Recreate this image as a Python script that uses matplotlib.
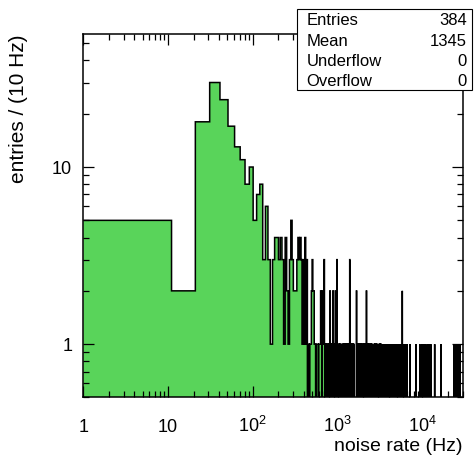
import numpy as np
import matplotlib
matplotlib.use('Agg')
import matplotlib.pyplot as plt
from matplotlib.patches import Rectangle
from matplotlib.ticker import LogLocator, NullFormatter

plt.rcParams['font.family'] = ['Liberation Sans', 'DejaVu Sans']
plt.rcParams['mathtext.fontset'] = 'custom'
plt.rcParams['mathtext.rm'] = 'Liberation Sans'

# histogram: 10 Hz bins starting at 1 Hz
bin_width = 10
n_bins = 3000
x_lo = 1

# bins 0..40 (1 - 411 Hz)
low_counts = [5, 2, 18, 30, 24, 17, 13, 11, 8, 10,
              5, 7, 8, 3, 6, 3, 1, 3, 4, 4,
              3, 4, 3, 1, 4, 2, 1, 3, 5, 3,
              2, 2, 2, 3, 4, 3, 4, 3, 1, 3,
              1]

# bins 41..99 (411 - 1001 Hz)
mid_counts = [4, 1, 3, 0, 1, 0, 1, 1, 2, 3,
              2, 2, 1, 1, 0, 1, 1, 1, 0, 1,
              1, 1, 2, 1, 0, 2, 1, 1, 3, 1,
              0, 1, 1, 0, 1, 1, 0, 1, 0, 1,
              2, 0, 1, 0, 1, 1, 0, 2, 0, 1,
              0, 1, 0, 2, 0, 1, 0, 3, 0]

# single entries above 1 kHz (Hz)
tail_rates = [1030, 1060, 1090, 1150, 1180, 1215, 1250, 1285, 1320, 1355,
              1400, 1400, 1400, 1440, 1480, 1520, 1560, 1676, 1676,
              1750, 1800, 1850, 1900, 1950, 2010, 2060, 2120, 2196, 2196,
              2240, 2300, 2360, 2430, 2500, 2560, 2710, 2780, 2860, 2940,
              3100, 3190, 3270, 3360, 3450, 3550, 3650, 3750, 3850, 3960,
              4070, 4180, 4290, 4410, 4530, 4660, 4790, 4920, 5050, 5190,
              5330, 5480, 5630, 5820, 5820, 5940,
              6150, 6350, 6600, 7150, 8400,
              9350, 9950, 10250, 10600, 11000, 11600, 12200, 12600,
              14000, 16700, 23800, 25000, 26400, 27900]

n_entries = 384
mean_rate = 1345

edges = x_lo + bin_width * np.arange(n_bins + 1)
counts = np.zeros(n_bins)
counts[:len(low_counts)] = low_counts
counts[41:41 + len(mid_counts)] = mid_counts
counts += np.histogram(tail_rates, bins=edges)[0]

# empty bins go below the log axis
floor = 1e-3
shown = np.where(counts > 0, counts, floor)

fig = plt.figure(figsize=(4.74, 4.58), dpi=100)
ax = fig.add_axes([0.1757, 0.1321, 0.8005, 0.7926])

ax.stairs(shown, edges, baseline=floor, fill=True, color='#59d45a', lw=0)
ax.stairs(shown, edges, baseline=None, color='black', lw=1.1)

ax.set_xscale('log')
ax.set_yscale('log')
ax.set_xlim(1, 30001)
ax.set_ylim(0.5, 56)

ax.set_xticks([1, 10, 100, 1000, 10000],
              ['1', '10', r'$\mathregular{10^{2}}$',
               r'$\mathregular{10^{3}}$', r'$\mathregular{10^{4}}$'])
ax.set_yticks([1, 10], ['1', '10'])
for a in (ax.xaxis, ax.yaxis):
    a.set_minor_locator(LogLocator(base=10, subs=np.arange(2, 10), numticks=20))
    a.set_minor_formatter(NullFormatter())

ax.tick_params(which='both', direction='in', top=True, right=True, width=0.9)
ax.tick_params(which='major', length=8)
ax.tick_params(which='minor', length=4)
ax.tick_params(axis='x', which='major', labelsize=13, pad=25)
ax.tick_params(axis='y', which='major', labelsize=13, pad=8)
plt.setp(ax.get_xticklabels(), va='baseline')
for s in ax.spines.values():
    s.set_linewidth(1.1)

ax.set_xlabel('noise rate (Hz)', fontsize=14, loc='right')
ax.xaxis.set_label_coords(1.0, -0.112)
ax.set_ylabel('entries / (10 Hz)', fontsize=15, loc='top')
ax.yaxis.set_label_coords(-0.145, 1.0)

# statistics box
bx0, by0, bx1, by1 = 0.6266, 0.8035, 0.9958, 0.9803
fig.add_artist(Rectangle((bx0, by0), bx1 - bx0, by1 - by0,
                         transform=fig.transFigure, facecolor='white',
                         edgecolor='black', lw=0.8, zorder=5))
stat_names = ['Entries', 'Mean', 'Underflow', 'Overflow']
stat_values = [str(n_entries), str(mean_rate), '0', '0']
row_y = [0.9563, 0.9090, 0.8653, 0.8216]
for name, val, yy in zip(stat_names, stat_values, row_y):
    fig.text(0.647, yy, name, fontsize=12, va='center', ha='left', zorder=6)
    fig.text(0.985, yy, val, fontsize=12, va='center', ha='right', zorder=6)

fig.savefig('out.png', dpi=100)
